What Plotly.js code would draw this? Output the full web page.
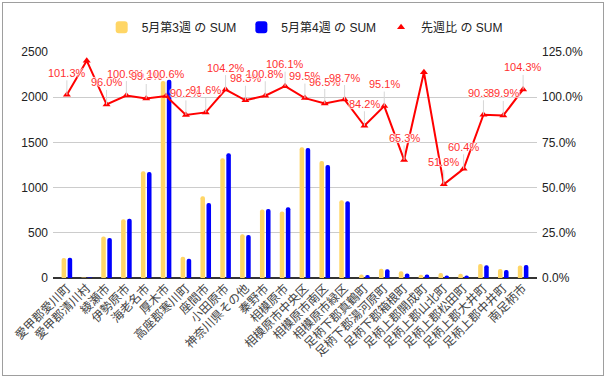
<!DOCTYPE html>
<html><head><meta charset="utf-8">
<script src="https://cdn.plot.ly/plotly-3.0.1.min.js"></script>
<style>
body{margin:0;background:#fff}
#wrap{position:relative;width:610px;height:379px}
#chart{position:absolute;left:0;top:0;width:610px;height:379px}
#frame{position:absolute;left:2px;top:2px;width:600px;height:372px;border:1px solid #9e9e9e;pointer-events:none}
</style></head>
<body><div id="wrap"><div id="chart"></div><div id="frame"></div></div>
<script>
const categories = ["愛甲郡愛川町","愛甲郡清川村","綾瀬市","伊勢原市","海老名市","厚木市","高座郡寒川町","座間市","小田原市","神奈川県その他","秦野市","相模原市","相模原市中央区","相模原市南区","相模原市緑区","足柄下郡真鶴町","足柄下郡湯河原町","足柄下郡箱根町","足柄上郡開成町","足柄上郡山北町","足柄上郡松田町","足柄上郡大井町","足柄上郡中井町","南足柄市"];
const week3 = [220, 5, 460, 650, 1180, 2180, 235, 905, 1325, 485, 757, 737, 1445, 1295, 860, 38, 103, 75, 35, 56, 48, 155, 99, 138];
const week4 = [223, 6, 442, 656, 1172, 2193, 212, 829, 1381, 476, 763, 782, 1438, 1250, 849, 32, 98, 49, 40, 29, 29, 140, 89, 144];
const ratio = [101.3, 120.2, 96.0, 100.9, 99.3, 100.6, 90.2, 91.6, 104.2, 98.3, 100.8, 106.1, 99.5, 96.5, 98.7, 84.2, 95.1, 65.3, 113.8, 51.8, 60.4, 90.3, 89.9, 104.3];
const ratioLabels = ["101.3%","","96.0%","100.9%","99.3%","100.6%","90.2%","91.6%","104.2%","98.3%","100.8%","106.1%","99.5%","96.5%","98.7%","84.2%","95.1%","65.3%","","51.8%","60.4%","90.3%","89.9%","104.3%"];
const seriesNames = ["5月第3週 の SUM","5月第4週 の SUM","先週比 の SUM"];

const FONT = "'Liberation Sans', Arial, 'Noto Sans CJK JP', sans-serif";
const halo = "1px 0 1px #fff, -1px 0 1px #fff, 0 1px 1px #fff, 0 -1px 1px #fff";

const traces = [
  {type:'bar', name:seriesNames[0], x:categories, y:week3, marker:{color:'#ffd666', cornerradius:2}, hoverinfo:'skip'},
  {type:'bar', name:seriesNames[1], x:categories, y:week4, marker:{color:'#0000ff', cornerradius:2}, hoverinfo:'skip'},
  {type:'scatter', mode:'lines', x:categories, y:ratio, yaxis:'y2', line:{color:'#ff0000', width:2}, showlegend:false, hoverinfo:'skip'},
  {type:'scatter', mode:'markers', name:seriesNames[2], x:categories, y:ratio, yaxis:'y2', marker:{color:'#ff0000', symbol:'triangle-up', size:7}, hoverinfo:'skip'}
];

const annotations = [];
categories.forEach((c,i)=>{
  if(!ratioLabels[i]) return;
  annotations.push({x:c, y:ratio[i], xref:'x', yref:'y2', text:ratioLabels[i], showarrow:true, arrowhead:0, arrowwidth:1, arrowcolor:'#d6d6d6', ax:0, ay:-22, standoff:0,
    font:{family:FONT, size:11, color:'#ff3030', shadow:halo}});
});

const layout = {
  width:610, height:379,
  margin:{l:53, r:73, t:52, b:101, pad:0},
  paper_bgcolor:'#fff', plot_bgcolor:'#fff',
  font:{family:FONT, size:12, color:'#444'},
  barmode:'group', bargap:0.39, bargroupgap:0.25,
  showlegend:true,
  legend:{orientation:'h', x:0.52, xanchor:'center', y:1.11, yanchor:'middle', font:{family:FONT, size:12, color:'#222'}, itemwidth:30, traceorder:'normal'},
  xaxis:{type:'category', range:[-0.7, 23.7], tickangle:-45, tickfont:{family:FONT, size:12, color:'#444'}, showgrid:false, zeroline:false, showline:false, ticks:'', automargin:false, fixedrange:true},
  yaxis:{range:[0,2500], dtick:500, tickfont:{family:FONT, size:12, color:'#222'}, gridcolor:'#cccccc', gridwidth:1, zeroline:true, zerolinecolor:'#333', zerolinewidth:1.5, showline:false, ticks:'', automargin:false, fixedrange:true, ticklabelstandoff:4},
  yaxis2:{overlaying:'y', side:'right', range:[0,125], dtick:25, tickformat:'.1f', ticksuffix:'%', tickfont:{family:FONT, size:12, color:'#222'}, showgrid:false, zeroline:false, showline:false, ticks:'', automargin:false, fixedrange:true, ticklabelstandoff:4},
  annotations:annotations
};

Plotly.newPlot('chart', traces, layout, {staticPlot:true, displayModeBar:false});
</script></body></html>
